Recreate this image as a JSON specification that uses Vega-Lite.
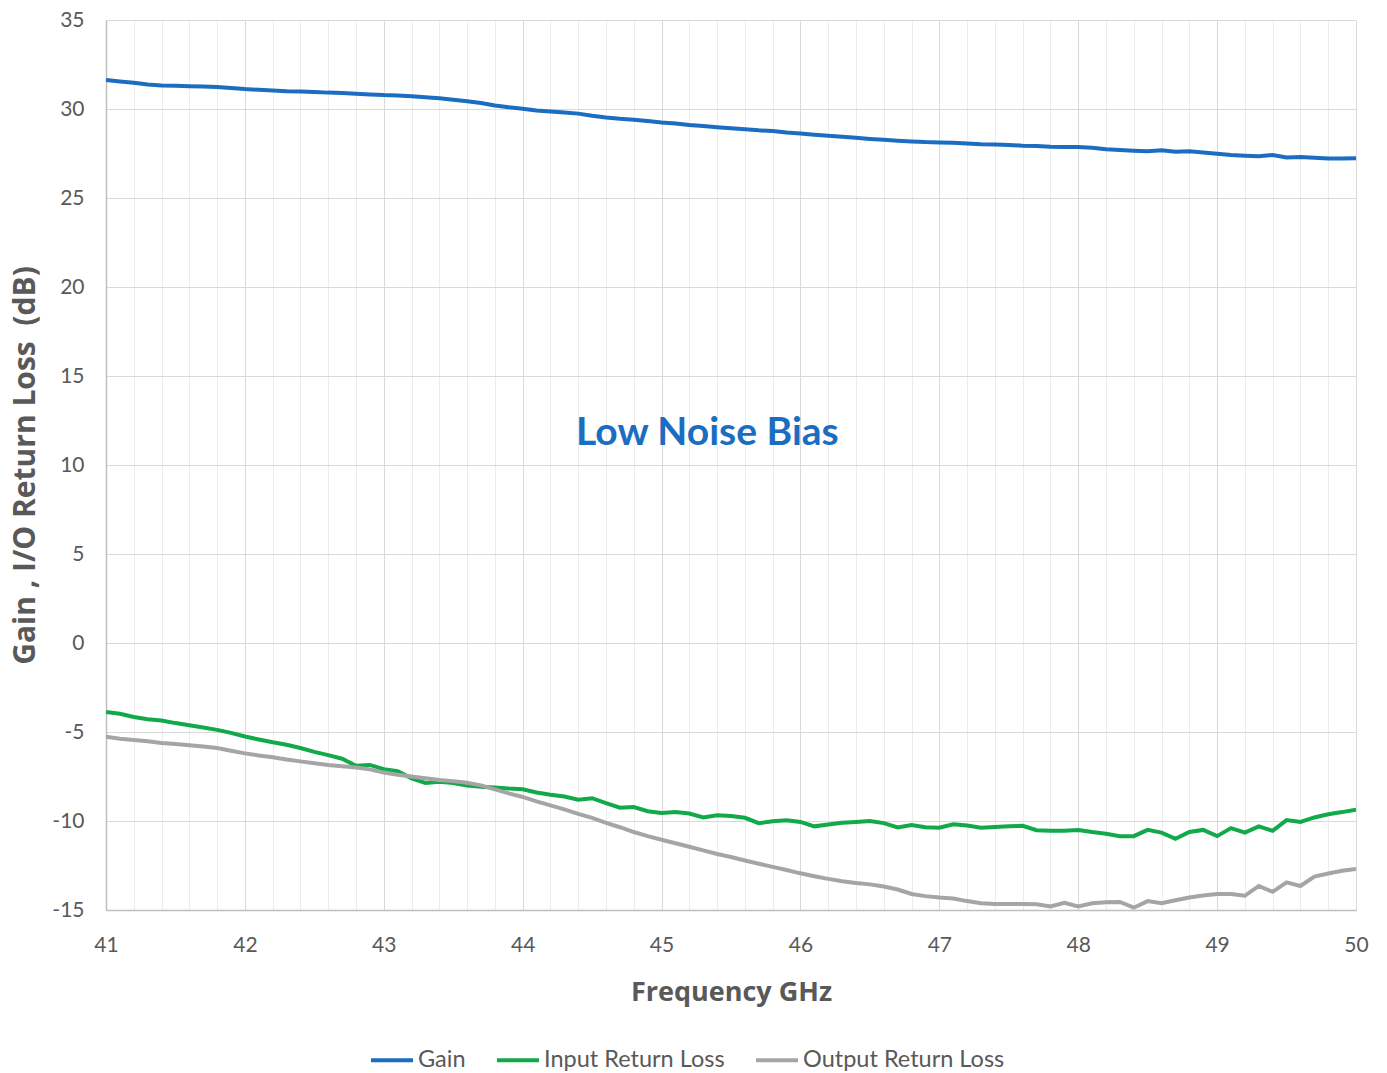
{
  "$schema": "https://vega.github.io/schema/vega-lite/v6.json",
  "width": 1250,
  "height": 890,
  "autosize": {"type": "none"},
  "padding": {"left": 106, "top": 20, "right": 31, "bottom": 163},
  "background": "white",
  "config": {
    "view": {"stroke": null},
    "font": "Lato"
  },
  "datasets": {
    "meas": [
      {"f": 41.0, "Gain": 31.63, "Input Return Loss": -3.88, "Output Return Loss": -5.26},
      {"f": 41.1, "Gain": 31.55, "Input Return Loss": -3.98, "Output Return Loss": -5.38},
      {"f": 41.2, "Gain": 31.48, "Input Return Loss": -4.16, "Output Return Loss": -5.45},
      {"f": 41.3, "Gain": 31.38, "Input Return Loss": -4.28, "Output Return Loss": -5.52},
      {"f": 41.4, "Gain": 31.32, "Input Return Loss": -4.35, "Output Return Loss": -5.62},
      {"f": 41.5, "Gain": 31.30, "Input Return Loss": -4.50, "Output Return Loss": -5.68},
      {"f": 41.6, "Gain": 31.28, "Input Return Loss": -4.62, "Output Return Loss": -5.74},
      {"f": 41.7, "Gain": 31.27, "Input Return Loss": -4.75, "Output Return Loss": -5.82},
      {"f": 41.8, "Gain": 31.24, "Input Return Loss": -4.88, "Output Return Loss": -5.90},
      {"f": 41.9, "Gain": 31.18, "Input Return Loss": -5.05, "Output Return Loss": -6.05},
      {"f": 42.0, "Gain": 31.12, "Input Return Loss": -5.25, "Output Return Loss": -6.20},
      {"f": 42.1, "Gain": 31.08, "Input Return Loss": -5.42, "Output Return Loss": -6.32},
      {"f": 42.2, "Gain": 31.04, "Input Return Loss": -5.58, "Output Return Loss": -6.42},
      {"f": 42.3, "Gain": 31.00, "Input Return Loss": -5.72, "Output Return Loss": -6.55},
      {"f": 42.4, "Gain": 30.98, "Input Return Loss": -5.90, "Output Return Loss": -6.65},
      {"f": 42.5, "Gain": 30.96, "Input Return Loss": -6.12, "Output Return Loss": -6.75},
      {"f": 42.6, "Gain": 30.92, "Input Return Loss": -6.30, "Output Return Loss": -6.85},
      {"f": 42.7, "Gain": 30.90, "Input Return Loss": -6.50, "Output Return Loss": -6.92},
      {"f": 42.8, "Gain": 30.86, "Input Return Loss": -6.90, "Output Return Loss": -7.00},
      {"f": 42.9, "Gain": 30.82, "Input Return Loss": -6.85, "Output Return Loss": -7.10},
      {"f": 43.0, "Gain": 30.78, "Input Return Loss": -7.09, "Output Return Loss": -7.28},
      {"f": 43.1, "Gain": 30.76, "Input Return Loss": -7.20, "Output Return Loss": -7.40},
      {"f": 43.2, "Gain": 30.72, "Input Return Loss": -7.60, "Output Return Loss": -7.50},
      {"f": 43.3, "Gain": 30.66, "Input Return Loss": -7.86, "Output Return Loss": -7.60},
      {"f": 43.4, "Gain": 30.60, "Input Return Loss": -7.80, "Output Return Loss": -7.70},
      {"f": 43.5, "Gain": 30.52, "Input Return Loss": -7.86, "Output Return Loss": -7.76},
      {"f": 43.6, "Gain": 30.44, "Input Return Loss": -8.00, "Output Return Loss": -7.85},
      {"f": 43.7, "Gain": 30.34, "Input Return Loss": -8.07, "Output Return Loss": -8.00},
      {"f": 43.8, "Gain": 30.20, "Input Return Loss": -8.12, "Output Return Loss": -8.22},
      {"f": 43.9, "Gain": 30.10, "Input Return Loss": -8.18, "Output Return Loss": -8.45},
      {"f": 44.0, "Gain": 30.02, "Input Return Loss": -8.22, "Output Return Loss": -8.65},
      {"f": 44.1, "Gain": 29.92, "Input Return Loss": -8.40, "Output Return Loss": -8.90},
      {"f": 44.2, "Gain": 29.86, "Input Return Loss": -8.52, "Output Return Loss": -9.12},
      {"f": 44.3, "Gain": 29.80, "Input Return Loss": -8.62, "Output Return Loss": -9.35},
      {"f": 44.4, "Gain": 29.74, "Input Return Loss": -8.80, "Output Return Loss": -9.60},
      {"f": 44.5, "Gain": 29.62, "Input Return Loss": -8.72, "Output Return Loss": -9.82},
      {"f": 44.6, "Gain": 29.52, "Input Return Loss": -9.00, "Output Return Loss": -10.10},
      {"f": 44.7, "Gain": 29.45, "Input Return Loss": -9.25, "Output Return Loss": -10.35},
      {"f": 44.8, "Gain": 29.40, "Input Return Loss": -9.22, "Output Return Loss": -10.62},
      {"f": 44.9, "Gain": 29.32, "Input Return Loss": -9.45, "Output Return Loss": -10.85},
      {"f": 45.0, "Gain": 29.24, "Input Return Loss": -9.55, "Output Return Loss": -11.05},
      {"f": 45.1, "Gain": 29.18, "Input Return Loss": -9.50, "Output Return Loss": -11.25},
      {"f": 45.2, "Gain": 29.10, "Input Return Loss": -9.58, "Output Return Loss": -11.45},
      {"f": 45.3, "Gain": 29.04, "Input Return Loss": -9.80, "Output Return Loss": -11.65},
      {"f": 45.4, "Gain": 28.98, "Input Return Loss": -9.68, "Output Return Loss": -11.85},
      {"f": 45.5, "Gain": 28.92, "Input Return Loss": -9.72, "Output Return Loss": -12.02},
      {"f": 45.6, "Gain": 28.86, "Input Return Loss": -9.82, "Output Return Loss": -12.22},
      {"f": 45.7, "Gain": 28.80, "Input Return Loss": -10.12, "Output Return Loss": -12.40},
      {"f": 45.8, "Gain": 28.76, "Input Return Loss": -10.02, "Output Return Loss": -12.58},
      {"f": 45.9, "Gain": 28.68, "Input Return Loss": -9.96, "Output Return Loss": -12.75},
      {"f": 46.0, "Gain": 28.62, "Input Return Loss": -10.05, "Output Return Loss": -12.94},
      {"f": 46.1, "Gain": 28.56, "Input Return Loss": -10.30, "Output Return Loss": -13.10},
      {"f": 46.2, "Gain": 28.50, "Input Return Loss": -10.20, "Output Return Loss": -13.25},
      {"f": 46.3, "Gain": 28.44, "Input Return Loss": -10.10, "Output Return Loss": -13.38},
      {"f": 46.4, "Gain": 28.38, "Input Return Loss": -10.05, "Output Return Loss": -13.48},
      {"f": 46.5, "Gain": 28.32, "Input Return Loss": -10.00, "Output Return Loss": -13.56},
      {"f": 46.6, "Gain": 28.27, "Input Return Loss": -10.12, "Output Return Loss": -13.68},
      {"f": 46.7, "Gain": 28.22, "Input Return Loss": -10.36, "Output Return Loss": -13.85},
      {"f": 46.8, "Gain": 28.18, "Input Return Loss": -10.22, "Output Return Loss": -14.10},
      {"f": 46.9, "Gain": 28.14, "Input Return Loss": -10.35, "Output Return Loss": -14.22},
      {"f": 47.0, "Gain": 28.12, "Input Return Loss": -10.38, "Output Return Loss": -14.30},
      {"f": 47.1, "Gain": 28.10, "Input Return Loss": -10.18, "Output Return Loss": -14.36},
      {"f": 47.2, "Gain": 28.06, "Input Return Loss": -10.25, "Output Return Loss": -14.50},
      {"f": 47.3, "Gain": 28.02, "Input Return Loss": -10.38, "Output Return Loss": -14.62},
      {"f": 47.4, "Gain": 28.00, "Input Return Loss": -10.34, "Output Return Loss": -14.66},
      {"f": 47.5, "Gain": 27.98, "Input Return Loss": -10.30, "Output Return Loss": -14.66},
      {"f": 47.6, "Gain": 27.94, "Input Return Loss": -10.27, "Output Return Loss": -14.66},
      {"f": 47.7, "Gain": 27.92, "Input Return Loss": -10.52, "Output Return Loss": -14.68},
      {"f": 47.8, "Gain": 27.88, "Input Return Loss": -10.55, "Output Return Loss": -14.80},
      {"f": 47.9, "Gain": 27.86, "Input Return Loss": -10.55, "Output Return Loss": -14.60},
      {"f": 48.0, "Gain": 27.86, "Input Return Loss": -10.50, "Output Return Loss": -14.80},
      {"f": 48.1, "Gain": 27.82, "Input Return Loss": -10.62, "Output Return Loss": -14.62},
      {"f": 48.2, "Gain": 27.74, "Input Return Loss": -10.72, "Output Return Loss": -14.57},
      {"f": 48.3, "Gain": 27.70, "Input Return Loss": -10.85, "Output Return Loss": -14.55},
      {"f": 48.4, "Gain": 27.66, "Input Return Loss": -10.85, "Output Return Loss": -14.87},
      {"f": 48.5, "Gain": 27.62, "Input Return Loss": -10.50, "Output Return Loss": -14.50},
      {"f": 48.6, "Gain": 27.68, "Input Return Loss": -10.65, "Output Return Loss": -14.62},
      {"f": 48.7, "Gain": 27.60, "Input Return Loss": -11.00, "Output Return Loss": -14.45},
      {"f": 48.8, "Gain": 27.62, "Input Return Loss": -10.62, "Output Return Loss": -14.30},
      {"f": 48.9, "Gain": 27.55, "Input Return Loss": -10.50, "Output Return Loss": -14.18},
      {"f": 49.0, "Gain": 27.48, "Input Return Loss": -10.85, "Output Return Loss": -14.10},
      {"f": 49.1, "Gain": 27.42, "Input Return Loss": -10.40, "Output Return Loss": -14.10},
      {"f": 49.2, "Gain": 27.38, "Input Return Loss": -10.65, "Output Return Loss": -14.20},
      {"f": 49.3, "Gain": 27.34, "Input Return Loss": -10.30, "Output Return Loss": -13.65},
      {"f": 49.4, "Gain": 27.42, "Input Return Loss": -10.55, "Output Return Loss": -13.98},
      {"f": 49.5, "Gain": 27.28, "Input Return Loss": -9.95, "Output Return Loss": -13.45},
      {"f": 49.6, "Gain": 27.30, "Input Return Loss": -10.05, "Output Return Loss": -13.65},
      {"f": 49.7, "Gain": 27.26, "Input Return Loss": -9.80, "Output Return Loss": -13.12},
      {"f": 49.8, "Gain": 27.22, "Input Return Loss": -9.62, "Output Return Loss": -12.95},
      {"f": 49.9, "Gain": 27.22, "Input Return Loss": -9.50, "Output Return Loss": -12.80},
      {"f": 50.0, "Gain": 27.23, "Input Return Loss": -9.36, "Output Return Loss": -12.70}
    ],
    "note": [{"f": 45.33, "v": 11.8, "label": "Low Noise Bias"}]
  },
  "resolve": {"axis": {"x": "independent"}},
  "layer": [
    {
      "data": {"name": "note"},
      "mark": {"type": "text", "font": "Lato", "fontSize": 39, "fontWeight": "bold", "color": "#1a6dc0", "align": "center", "baseline": "middle"},
      "encoding": {
        "x": {
          "field": "f", "type": "quantitative",
          "scale": {"domain": [41, 50], "nice": false, "zero": false},
          "axis": {
            "orient": "top",
            "values": [41.2, 41.4, 41.6, 41.8, 42.2, 42.4, 42.6, 42.8, 43.2, 43.4, 43.6, 43.8, 44.2, 44.4, 44.6, 44.8, 45.2, 45.4, 45.6, 45.8, 46.2, 46.4, 46.6, 46.8, 47.2, 47.4, 47.6, 47.8, 48.2, 48.4, 48.6, 48.8, 49.2, 49.4, 49.6, 49.8],
            "labels": false,
            "ticks": false,
            "domain": false,
            "title": null,
            "grid": true,
            "gridColor": "#ececec",
            "gridWidth": 1
          }
        },
        "y": {"field": "v", "type": "quantitative"},
        "text": {"field": "label"}
      }
    },
    {
      "data": {"name": "meas"},
      "transform": [{"fold": ["Gain", "Input Return Loss", "Output Return Loss"], "as": ["series", "v"]}],
      "mark": {"type": "line", "strokeWidth": 4, "clip": true},
      "encoding": {
        "x": {
          "field": "f", "type": "quantitative",
          "axis": {
            "orient": "bottom",
            "values": [41, 42, 43, 44, 45, 46, 47, 48, 49, 50],
            "labelExpr": "'' + datum.value",
            "labelOverlap": false,
            "title": "Frequency GHz",
            "grid": true,
            "gridColor": "#d9d9d9",
            "gridWidth": 1,
            "ticks": false,
            "domainColor": "#bfbfbf",
            "domainWidth": 1.5,
            "labelFont": "Lato",
            "labelFontSize": 21,
            "labelColor": "#595959",
            "labelPadding": 24,
            "labelFlush": false,
            "titleFont": "Open Sans",
            "titleFontSize": 27,
            "titleFontWeight": "bold",
            "titleColor": "#595959",
            "titleY": 82,
            "titleBaseline": "middle"
          }
        },
        "y": {
          "field": "v", "type": "quantitative",
          "scale": {"domain": [-15, 35], "nice": false, "zero": false},
          "axis": {
            "values": [-15, -10, -5, 0, 5, 10, 15, 20, 25, 30, 35],
            "labelExpr": "'' + datum.value",
            "labelOverlap": false,
            "title": "Gain , I/O Return Loss \u00a0(dB)",
            "grid": true,
            "gridColor": "#d9d9d9",
            "ticks": false,
            "domainColor": "#bfbfbf",
            "domainWidth": 1.5,
            "labelFont": "Lato",
            "labelFontSize": 21,
            "labelColor": "#595959",
            "labelPadding": 22,
            "labelFlush": false,
            "titleFont": "Open Sans",
            "titleFontSize": 30,
            "titleFontWeight": "bold",
            "titleColor": "#595959",
            "titleX": -81,
            "titleBaseline": "middle"
          }
        },
        "color": {
          "field": "series", "type": "nominal",
          "scale": {"domain": ["Gain", "Input Return Loss", "Output Return Loss"], "range": ["#1a6dc0", "#12a94b", "#a5a5a5"]},
          "legend": {
            "title": null,
            "orient": "none",
            "direction": "horizontal",
            "legendX": 263,
            "legendY": 1017,
            "symbolType": "stroke",
            "symbolSize": 1764,
            "symbolStrokeWidth": 4,
            "labelFont": "Lato",
            "labelFontSize": 23.5,
            "labelColor": "#595959",
            "labelLimit": 0,
            "labelOffset": 3,
            "columnPadding": 23,
            "padding": 0
          }
        }
      }
    }
  ]
}
